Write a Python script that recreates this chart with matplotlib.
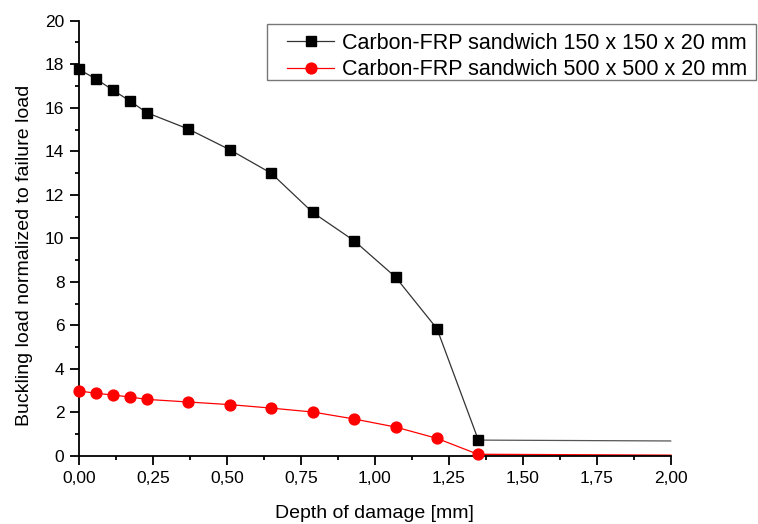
import matplotlib
matplotlib.use("Agg")
import matplotlib.pyplot as plt
from matplotlib.patches import Rectangle
from matplotlib.ticker import MultipleLocator, FuncFormatter

plt.rcParams['font.family'] = ['Liberation Sans', 'DejaVu Sans']

x_small = [0.0, 0.058, 0.115, 0.172, 0.23, 0.37, 0.51, 0.65, 0.79, 0.93, 1.07, 1.21, 1.35, 2.0]
y_small = [17.76, 17.32, 16.81, 16.31, 15.77, 15.02, 14.07, 12.99, 11.19, 9.89, 8.22, 5.85, 0.73, 0.69]
x_large = [0.0, 0.058, 0.115, 0.172, 0.23, 0.37, 0.51, 0.65, 0.79, 0.93, 1.07, 1.21, 1.35, 2.0]
y_large = [2.99, 2.88, 2.80, 2.71, 2.60, 2.48, 2.36, 2.20, 2.02, 1.70, 1.33, 0.81, 0.07, 0.03]
label_small = "Carbon-FRP sandwich 150 x 150 x 20 mm"
label_large = "Carbon-FRP sandwich 500 x 500 x 20 mm"

W, H = 758, 524
fig = plt.figure(figsize=(W / 100, H / 100), dpi=100)
ax = fig.add_axes([0.1042, 0.1298, 0.7806, 0.8307])

ax.plot(x_small[:-1], y_small[:-1], color='#333333', lw=0.9, marker='s', ms=7.0,
        mfc='black', mec='black', label=label_small, clip_on=False, zorder=3)
ax.plot(x_small[-2:], y_small[-2:], color='#555555', lw=0.9, clip_on=False, zorder=2)
ax.plot(x_large[:-1], y_large[:-1], color='red', lw=0.9, marker='o', ms=7.8,
        mfc='red', mec='red', label=label_large, clip_on=False, zorder=3)
ax.plot(x_large[-2:], y_large[-2:], color='red', lw=1.2, clip_on=False, zorder=2)

ax.set_xlim(0, 2.0)
ax.set_ylim(0, 20)
ax.spines['top'].set_visible(False)
ax.spines['right'].set_visible(False)
for s in ['left', 'bottom']:
    ax.spines[s].set_linewidth(1.3)
ax.xaxis.set_major_locator(MultipleLocator(0.25))
ax.xaxis.set_minor_locator(MultipleLocator(0.125))
ax.yaxis.set_major_locator(MultipleLocator(2))
ax.yaxis.set_minor_locator(MultipleLocator(1))
ax.xaxis.set_major_formatter(FuncFormatter(lambda v, p: f"{v:.2f}".replace('.', ',')))
ax.tick_params(which='major', direction='out', length=6.5, width=1.3, labelsize=12.5, pad=4)
ax.tick_params(which='minor', direction='out', length=3.2, width=1.3)

ax.set_xlabel("Depth of damage [mm]", fontsize=14, labelpad=14)
ax.set_ylabel("Buckling load normalized to failure load", fontsize=14)
ax.yaxis.set_label_coords(-0.078, 0.462)

# legend without frame, frame drawn separately to match the wide left padding
leg = fig.legend(loc='upper left', bbox_to_anchor=(287 / W, 1 - 33 / H), fontsize=15.5,
                 frameon=False, borderpad=0, handlelength=2.2, labelspacing=0.24,
                 handletextpad=0.35, borderaxespad=0)
fig.add_artist(Rectangle((267 / W, 1 - 80 / H), (756 - 267) / W, 56 / H,
                         transform=fig.transFigure, fill=False, edgecolor='#777777',
                         lw=1.0))

fig.savefig("out.png", dpi=100)
